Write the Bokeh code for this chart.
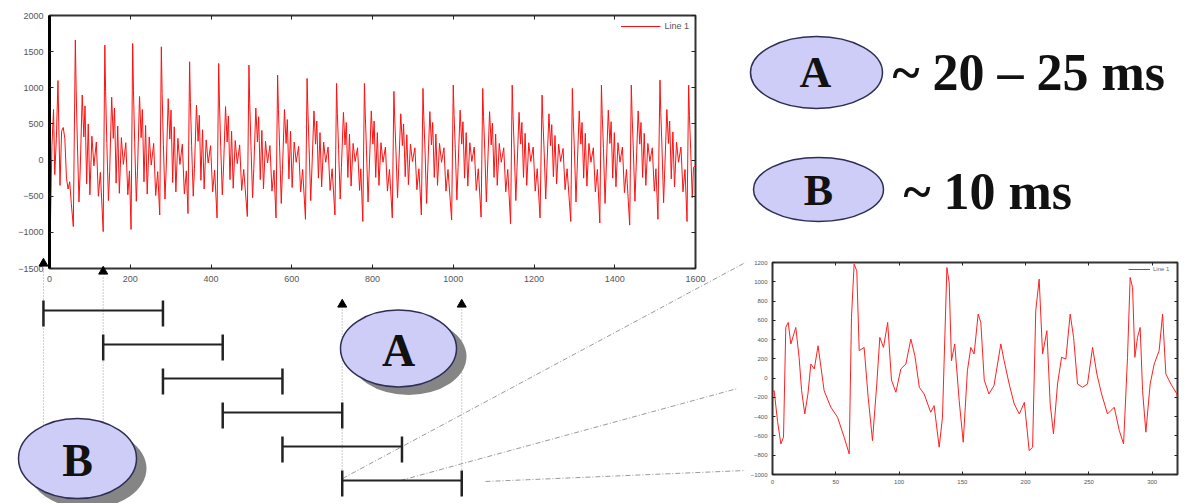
from bokeh.plotting import figure
from bokeh.models import Range1d, FixedTicker, Legend, LegendItem, GridBox, Column, LinearAxis
from bokeh.core.properties import value
from bokeh.embed import file_html
from bokeh.resources import INLINE

# ---------------- data ----------------
main_x = [0, 2, 6, 10, 13, 17, 21, 23, 26, 30, 34, 38, 42, 46, 50, 54, 59,
          64, 66, 69, 73, 76, 81, 85, 88, 92, 96, 100, 105, 110, 116, 121, 126, 133,
          137, 139, 142, 146, 149, 154, 158, 161, 165, 169, 173, 178, 183, 189, 194, 198, 202,
          206, 208, 211, 215, 218, 223, 227, 230, 234, 238, 242, 247, 252, 258, 263, 268, 273,
          277, 279, 282, 286, 289, 294, 298, 301, 305, 309, 313, 318, 323, 329, 334, 339, 343,
          347, 349, 352, 356, 359, 364, 368, 371, 375, 379, 383, 388, 393, 399, 404, 409, 415,
          419, 421, 424, 428, 431, 436, 440, 443, 447, 451, 455, 460, 465, 471, 476, 481, 490,
          494, 496, 499, 503, 506, 511, 515, 518, 522, 526, 530, 535, 540, 546, 551, 556, 561,
          565, 567, 570, 574, 577, 582, 586, 589, 593, 597, 601, 606, 611, 617, 622, 627, 634,
          638, 640, 643, 647, 650, 655, 659, 662, 666, 670, 674, 679, 684, 690, 695, 700, 707,
          711, 713, 716, 720, 723, 728, 732, 735, 739, 743, 747, 752, 757, 763, 768, 771, 776,
          780, 782, 785, 789, 792, 797, 801, 804, 808, 812, 816, 821, 826, 832, 837, 842, 849,
          853, 855, 858, 862, 865, 870, 874, 877, 881, 885, 889, 894, 899, 905, 910, 915, 921,
          925, 927, 930, 934, 937, 942, 946, 949, 953, 957, 961, 966, 971, 977, 982, 987, 996,
          1000, 1002, 1005, 1009, 1012, 1017, 1021, 1024, 1028, 1032, 1036, 1041, 1046, 1052, 1057, 1062, 1069,
          1073, 1075, 1078, 1082, 1085, 1090, 1094, 1097, 1101, 1105, 1109, 1114, 1119, 1125, 1130, 1135, 1142,
          1146, 1148, 1151, 1155, 1158, 1163, 1167, 1170, 1174, 1178, 1182, 1187, 1192, 1198, 1203, 1208, 1215,
          1220, 1222, 1225, 1229, 1232, 1237, 1241, 1244, 1248, 1252, 1256, 1261, 1266, 1272, 1277, 1282, 1291,
          1295, 1297, 1300, 1304, 1307, 1312, 1316, 1319, 1323, 1327, 1331, 1336, 1341, 1347, 1352, 1357, 1363,
          1367, 1369, 1372, 1376, 1379, 1384, 1388, 1391, 1395, 1399, 1403, 1408, 1413, 1419, 1424, 1429, 1437,
          1441, 1443, 1446, 1450, 1453, 1458, 1462, 1465, 1469, 1473, 1477, 1482, 1487, 1493, 1498, 1502, 1507,
          1512, 1514, 1517, 1521, 1524, 1529, 1533, 1536, 1540, 1544, 1548, 1553, 1558, 1564, 1569, 1574, 1579,
          1583, 1585, 1588, 1592, 1595, 1600]
main_y = [-300, -980, 200, 700, -200, 300, 1100, 500, -350, 400, 450, 300, -250, -400, -300, -600, -920,
          1660, 980, 250, -580, -150, 900, 320, 750, -330, 500, -480, 330, -80, 250, -500, -170, -990,
          1590, 950, 230, -560, -160, 870, 300, 720, -320, 470, -460, 310, -60, 240, -480, -150, -960,
          1614, 960, 240, -570, -140, 880, 310, 700, -300, 480, -470, 320, -70, 230, -490, -160, -760,
          1567, 920, 220, -540, -130, 850, 290, 690, -310, 460, -440, 300, -60, 220, -470, -150, -740,
          1360, 800, 200, -500, -120, 760, 260, 620, -280, 420, -400, 280, -40, 200, -440, -140, -800,
          1337, 790, 190, -480, -110, 740, 250, 610, -270, 400, -390, 270, -50, 210, -420, -130, -780,
          1314, 780, 190, -520, -120, 720, 250, 600, -270, 410, -400, 260, -40, 200, -430, -140, -800,
          1176, 700, 170, -600, -130, 700, 230, 560, -260, 400, -380, 250, -30, 190, -440, -130, -820,
          1130, 680, 160, -560, -110, 680, 220, 540, -250, 380, -370, 250, -30, 180, -420, -120, -760,
          1060, 640, 150, -540, -100, 660, 210, 520, -240, 360, -360, 230, -20, 170, -420, -120, -850,
          1060, 650, 150, -580, -110, 680, 220, 540, -240, 380, -350, 240, -30, 180, -430, -130, -800,
          950, 580, 140, -520, -100, 640, 200, 500, -230, 350, -340, 220, -20, 170, -410, -120, -760,
          991, 600, 150, -600, -110, 670, 210, 520, -240, 360, -350, 230, -30, 170, -430, -130, -830,
          1037, 630, 160, -550, -100, 690, 220, 530, -250, 380, -360, 240, -20, 180, -420, -120, -790,
          991, 600, 150, -580, -110, 670, 210, 510, -240, 360, -350, 230, -30, 170, -440, -130, -880,
          1037, 620, 160, -560, -100, 660, 220, 520, -240, 370, -350, 240, -20, 180, -430, -120, -800,
          899, 560, 140, -540, -100, 640, 200, 490, -230, 340, -330, 220, -20, 160, -410, -120, -850,
          991, 600, 150, -580, -110, 680, 220, 520, -250, 370, -360, 230, -30, 170, -440, -130, -870,
          1037, 630, 160, -600, -110, 690, 230, 530, -250, 380, -370, 240, -30, 180, -450, -130, -900,
          1037, 620, 150, -570, -100, 680, 220, 520, -240, 370, -350, 230, -20, 170, -430, -120, -820,
          1106, 660, 170, -590, -110, 700, 230, 540, -260, 390, -370, 250, -30, 180, -440, -130, -850,
          1037, 620, 150, -520, -100, -80]
main_x_ticks = [0, 200, 400, 600, 800, 1000, 1200, 1400, 1600]
main_y_ticks = [-1500, -1000, -500, 0, 500, 1000, 1500, 2000]

small_x = [0, 1.3, 4, 6.6, 8.7, 10.5, 12.4, 14.5, 18.4, 21, 23, 25.5, 28, 30.3, 33, 36,
           40.8, 46, 51.4, 56.6, 60.6, 62.4, 64.5, 66.6, 68.5, 72.4, 75.6, 79, 82.4, 84.8,
           87.7, 91, 94, 97.5, 101.4, 105.4, 109.3, 112.5, 116, 119.8, 125, 127.7, 131.7,
           134.3, 137.8, 139.6, 141.4, 144, 147.5, 150.7, 154, 156.7, 159.3, 162.5, 164.6,
           167.3, 171, 175, 180.4, 183, 187, 191, 195, 199, 202.8, 205.5, 208, 210.7, 213.4,
           216.8, 219.4, 222, 225.2, 228.4, 231.8, 235.2, 237.9, 241, 245, 248.9, 252.9,
           256.3, 260, 264.7, 270, 274, 277.4, 280.5, 282.6, 284.5, 286.3, 288.4, 290.5,
           292.4, 295, 298.4, 301.6, 305.5, 308.2, 310.8, 314.8, 319.5, 320]
small_y = [-150, -130, -450, -682, -613, 526, 578, 354, 526, 216, -130, -372, -164, 147, 95, 336,
           -130, -300, -406, -613, -786, 630, 1183, 1114, 285, 319, -199, -648, -61, 423,
           319, 578, -20, -147, 95, 147, 405, 233, -95, -164, -354, -285, -717,
           -406, 1148, 993, 181, 354, -233, -665, 78, 319, 250, 665, 578,
           -20, -164, -78, 354, 181, -61, -268, -372, -251, -752, -717, 699, 1027, 250,
           492, -268, -579, -61, 216, 198, 665, 423, -61, -95, -61, 319,
           43, -164, -372, -302, -544, -682, 216, 1045, 941, 216, 423, 526,
           -130, -561, -61, 147, 285, 665, 43, -61, -164, -200]
small_x_ticks = [0, 50, 100, 150, 200, 250, 300]
small_y_ticks = [-1000, -800, -600, -400, -200, 0, 200, 400, 600, 800, 1000, 1200]

# analysis windows (in samples): start / end of each frame
win_start = [-15, 133, 281, 429, 577, 725]
win_end = [281, 429, 577, 725, 873, 1021]

legend_label = "Line 1"
label_A = "A"
label_B = "B"
text_A = "~ 20 \u2013 25 ms"
text_B = "~ 10 ms"

# ---------------- layout constants (page px, no body margin) ----------------
W, H = 1186, 503
MAIN_W, MAIN_H = 710, 298
FL, FR, FT, FB = 49, 695, 15, 268     # main frame
SM_X, SM_Y = 730, 250
SM_W, SM_H = W - SM_X, H - SM_Y
SFL, SFR, SFT, SFB = 772, 1177, 262, 474  # small frame

LABEL_FONT = "Liberation Sans"
SERIF = "Liberation Serif"


def style_axis(ax, ticks, size, tick_in=4, color="#555555"):
    ax.ticker = FixedTicker(ticks=ticks)
    ax.major_label_text_font_size = size
    ax.major_label_text_color = color
    ax.major_label_text_font = LABEL_FONT
    ax.major_tick_in = tick_in
    ax.major_tick_out = 0
    ax.major_tick_line_color = "#222222"
    ax.minor_tick_line_color = None
    ax.axis_line_color = None


def add_mirror(p, xticks, yticks, tick_in):
    for ticks, place in ((xticks, "above"), (yticks, "right")):
        ax = LinearAxis()
        style_axis(ax, ticks, "0px", tick_in=tick_in)
        ax.major_label_standoff = 0
        ax.major_label_text_alpha = 0
        p.add_layout(ax, place)


# ---------------- main waveform ----------------
p_main = figure(width=MAIN_W, height=MAIN_H, x_range=Range1d(0, 1600), y_range=Range1d(-1500, 2000),
                output_backend="svg", toolbar_location=None,
                min_border_left=FL, min_border_right=MAIN_W - FR,
                min_border_top=FT, min_border_bottom=MAIN_H - FB)
p_main.grid.visible = False
p_main.outline_line_color = "#333333"
p_main.outline_line_width = 2
p_main.border_fill_color = None
style_axis(p_main.xaxis[0], main_x_ticks, "9px")
style_axis(p_main.yaxis[0], main_y_ticks, "9px")
p_main.yaxis[0].axis_line_color = "black"
p_main.yaxis[0].axis_line_width = 3
p_main.xaxis[0].major_label_standoff = 7
p_main.yaxis[0].major_label_standoff = 6
add_mirror(p_main, main_x_ticks, main_y_ticks, 4)
r_main = p_main.line(main_x, main_y, line_color="#ff1010", line_width=1)
leg = Legend(items=[LegendItem(label=legend_label, renderers=[r_main])], location="top_right",
             background_fill_alpha=0, border_line_alpha=0, label_text_font_size="9px",
             label_text_color="#555555", label_text_font=LABEL_FONT, glyph_width=40,
             glyph_height=8, margin=4, padding=2, label_standoff=4)
p_main.add_layout(leg)

# ---------------- zoomed waveform ----------------
p_small = figure(width=SM_W, height=SM_H, x_range=Range1d(0, 320), y_range=Range1d(-1000, 1200),
                 output_backend="svg", toolbar_location=None,
                 min_border_left=SFL - SM_X, min_border_right=SM_X + SM_W - SFR,
                 min_border_top=SFT - SM_Y, min_border_bottom=SM_Y + SM_H - SFB)
p_small.grid.visible = False
p_small.outline_line_color = "#333333"
p_small.outline_line_width = 2
p_small.border_fill_color = None
style_axis(p_small.xaxis[0], small_x_ticks, "6px", tick_in=3)
style_axis(p_small.yaxis[0], small_y_ticks, "6px", tick_in=3)
p_small.xaxis[0].major_label_standoff = 5
p_small.yaxis[0].major_label_standoff = 5
add_mirror(p_small, small_x_ticks, small_y_ticks, 3)
r_small = p_small.line(small_x, small_y, line_color="#ff2020", line_width=1)
leg2 = Legend(items=[LegendItem(label=legend_label, renderers=[r_small])], location="top_right",
              background_fill_alpha=0, border_line_alpha=0, label_text_font_size="6px",
              label_text_color="#666666", label_text_font=LABEL_FONT, glyph_width=22,
              glyph_height=6, margin=3, padding=1, label_standoff=3)
p_small.add_layout(leg2)

# ---------------- diagram canvas (overlay) ----------------
per_px = 1600 / (FR - FL)
canvas = figure(width=W, height=H, x_range=Range1d(0, W), y_range=Range1d(H, 0),
                output_backend="svg", toolbar_location=None, x_axis_type=None, y_axis_type=None,
                min_border=0, min_border_left=0, min_border_right=0, min_border_top=0,
                min_border_bottom=0)
canvas.extra_x_ranges = {"samples": Range1d(-FL * per_px, (W - FL) * per_px)}
canvas.grid.visible = False
canvas.outline_line_color = None
canvas.background_fill_color = None
canvas.border_fill_color = None

# zoom connector lines (last window -> zoomed plot)
canvas.segment(x0=[342, 400, 485], y0=[478, 480, 481], x1=[745, 737, 745], y1=[262, 388, 470],
               line_color="#9a9a9a", line_width=1, line_dash="5 2 1 2")

# dotted guides at window boundaries
guide_x = [win_start[0], win_start[1], win_start[5], win_end[5]]
canvas.segment(x0=guide_x, y0=[268, 277, 309, 309], x1=guide_x, y1=[440, 440, 480, 480],
               line_color="#9a9a9a", line_width=1, line_dash="1 2", x_range_name="samples")

# frame segments
row_y = [310 + 34 * i for i in range(len(win_start))]
canvas.segment(x0=win_start, y0=row_y, x1=win_end, y1=row_y, line_color="#222222",
               line_width=2, x_range_name="samples")
canvas.segment(x0=win_start + win_end, y0=[y - 10 for y in row_y] * 2,
               x1=win_start + win_end, y1=[y + 16 for y in row_y] * 2,
               line_color="#222222", line_width=2.5, x_range_name="samples")

# arrow heads
canvas.scatter(x=guide_x, y=[263, 271, 304, 304], marker="triangle", size=9,
               color="black", x_range_name="samples")

# ellipses with shadows (diagram)
canvas.ellipse(x=[408, 87], y=[356, 468], width=[116, 118], height=[77, 80],
               fill_color="#858585", line_color=None)
canvas.ellipse(x=[398, 77], y=[348, 458], width=[116, 118], height=[77, 80],
               fill_color="#cdcdf7", line_color="#2e2e55", line_width=1.5)
canvas.text(x=[398, 77], y=[350, 460], text=[label_A, label_B], text_font=value(SERIF),
            text_font_style="bold", text_font_size="46px", text_align="center",
            text_baseline="middle", text_color="#111111")

# key on the right
canvas.ellipse(x=[816, 818], y=[72, 189], width=[132, 130], height=[72, 64],
               fill_color="#cdcdf7", line_color="#2e2e55", line_width=1.5)
canvas.text(x=[815, 818], y=[72, 190], text=[label_A, label_B], text_font=value(SERIF),
            text_font_style="bold", text_font_size="44px", text_align="center",
            text_baseline="middle", text_color="#111111")
canvas.text(x=[892, 903], y=[72, 191], text=[text_A, text_B], text_font=value(SERIF),
            text_font_style="bold", text_font_size="52px", text_align="left",
            text_baseline="middle", text_color="#111111")

canvas_box = Column(children=[canvas])

layout = GridBox(children=[(p_main, 0, 0, 2, 1), (p_small, 1, 2, 2, 1), (canvas_box, 0, 0, 3, 3)],
                 rows=[f"{SM_Y}px", f"{MAIN_H - SM_Y}px", f"{H - MAIN_H}px"],
                 cols=[f"{MAIN_W}px", f"{SM_X - MAIN_W}px", f"{W - SM_X}px"])

open("out.html", "w").write(file_html(layout, INLINE))
